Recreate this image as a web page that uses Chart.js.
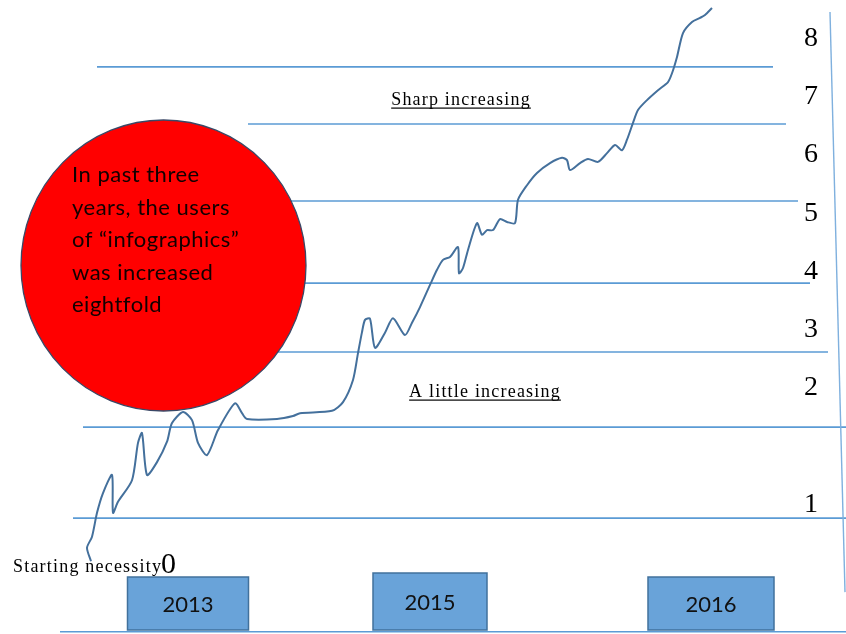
<!DOCTYPE html>
<html>
<head>
<meta charset="utf-8">
<script src="https://cdn.jsdelivr.net/npm/chart.js@4/dist/chart.umd.min.js"></script>
<style>
  body { margin: 0; background: #fff; }
  canvas { display: block; }
</style>
</head>
<body>
<canvas id="chart" width="846" height="634"></canvas>
<script>
// curve: weeks since start (x) and users index (y)
const weeks = [0.75, -0.25, 1, 2.25, 3.75, 6, 6.25, 7.5, 11, 12.5, 13.5, 14.75, 17.25, 19.75, 21, 23.75,
  26, 27.5, 29.75, 32.5, 36.75, 38.5, 39.75, 47.25, 51.25, 53, 61, 63.75, 66.25, 67.5, 68.5, 69.25,
  70.5, 71.75, 74.25, 76.25, 79.25, 81, 83, 85.5, 87.25, 88.75, 90.5, 92.5, 92.75, 93.75, 95, 97.25,
  98.5, 99.75, 101.25, 103, 104.75, 106.75, 107.5, 109.75, 112.25, 115.5, 118.5, 119.75, 120.5, 123,
  125, 127.5, 129.75, 131.75, 133.5, 134.75, 136.25, 137.5, 139.75, 142.5, 145, 146, 147.25, 148.75,
  151, 153, 154.25, 156]
const users = [0.03, 0.26, 0.45, 0.86, 1.20, 1.51, 0.86, 1.05, 1.42, 2.06, 2.23, 1.51, 1.73, 2.08, 2.40, 2.59,
  2.45, 2.06, 1.85, 2.28, 2.74, 2.57, 2.47, 2.47, 2.52, 2.57, 2.61, 2.76, 3.14, 3.60, 3.96, 4.17,
  4.19, 3.69, 3.95, 4.20, 3.91, 4.12, 4.39, 4.77, 5.03, 5.20, 5.25, 5.42, 4.97, 5.06, 5.37, 5.83,
  5.63, 5.71, 5.71, 5.90, 5.85, 5.83, 6.23, 6.48, 6.69, 6.86, 6.95, 6.91, 6.74, 6.86,
  6.93, 6.88, 7.03, 7.17, 7.08, 7.26, 7.55, 7.77, 7.94, 8.11, 8.25, 8.40, 8.68, 9.09,
  9.28, 9.35, 9.40, 9.52]

// horizontal guide lines (level, first week, last week)
const guideLevels = [8.51, 7.53, 6.21, 4.80, 3.62, 2.33, 0.77, -1.18]
const guideStarts = [2.25, 40, 28, 28, 28, -1.25, -3.75, -7]
const guideEnds = [171.25, 174.5, 177.5, 180.5, 185, 189.5, 189.5, 189.5]

// right edge rule
const edgeWeeks = [185.5, 189.25]
const edgeLevels = [9.45, -0.5]

const tickLabels = ['1', '2', '3', '4', '5', '6', '7', '8']
const tickLevels = [1, 3, 4, 5, 6, 7, 8, 9]

const years = ['2013', '2015', '2016']
const yearWeeks = [25, 85.5, 155.75]

const circleText = ['In past three', 'years, the users', 'of \u201cinfographics\u201d', 'was increased', 'eightfold']

const guideSets = guideLevels.map((lv, i) => ({
  data: [{ x: guideStarts[i], y: lv }, { x: guideEnds[i], y: lv }],
  borderColor: '#5b9bd5',
  borderWidth: 1.6,
  pointRadius: 0
}))

function underlined (ctx, text, cx, baseY) {
  const w = ctx.measureText(text).width
  ctx.fillText(text, cx - w / 2, baseY)
  ctx.fillRect(cx - w / 2, baseY + 2.5, w, 1.2)
}

const decor = {
  id: 'decor',
  afterDatasetsDraw (chart) {
    const { ctx, scales: { x } } = chart
    ctx.save()

    // red bubble with the message
    ctx.beginPath()
    ctx.ellipse(163.5, 265.5, 142.5, 145.5, 0, 0, Math.PI * 2)
    ctx.fillStyle = '#ff0000'
    ctx.fill()
    ctx.lineWidth = 1.3
    ctx.strokeStyle = '#3a4866'
    ctx.stroke()
    ctx.fillStyle = '#120000'
    ctx.font = '22px Lato'
    ctx.letterSpacing = '0.5px'
    ctx.textAlign = 'left'
    ctx.textBaseline = 'middle'
    circleText.forEach((t, i) => ctx.fillText(t, 72, 175 + i * 32.5))

    // underlined notes
    ctx.fillStyle = '#000'
    ctx.textBaseline = 'alphabetic'
    ctx.font = '18px "Liberation Serif"'
    ctx.letterSpacing = '1.2px'
    underlined(ctx, 'Sharp increasing', 461, 105)
    underlined(ctx, 'A little increasing', 485, 397)
    ctx.fillText('Starting necessity', 13, 572)
    ctx.letterSpacing = '0px'
    ctx.font = '30px "Liberation Serif"'
    ctx.fillText('0', 161, 573)

    // year boxes
    const tops = [577, 573, 577]
    const widths = [121, 114, 126]
    years.forEach((yr, i) => {
      const cx = x.getPixelForValue(yearWeeks[i])
      const left = cx - widths[i] / 2
      ctx.fillStyle = '#69a3d9'
      ctx.fillRect(left, tops[i], widths[i], 630 - tops[i])
      ctx.lineWidth = 1.5
      ctx.strokeStyle = '#41719c'
      ctx.strokeRect(left, tops[i], widths[i], 630 - tops[i])
      ctx.fillStyle = '#111'
      ctx.font = '22px Lato'
      ctx.textAlign = 'center'
      ctx.textBaseline = 'middle'
      ctx.fillText(yr, cx, (tops[i] + 630) / 2 + 1)
      ctx.textAlign = 'left'
    })
    ctx.restore()
  }
}

new Chart(document.getElementById('chart'), {
  type: 'line',
  data: {
    datasets: [{
      data: weeks.map((w, i) => ({ x: w, y: users[i] })),
      borderColor: '#44709c',
      borderWidth: 2,
      pointRadius: 0,
      tension: 0.25
    }, {
      data: edgeWeeks.map((w, i) => ({ x: w, y: edgeLevels[i] })),
      borderColor: '#7fb0de',
      borderWidth: 1.4,
      pointRadius: 0
    }, ...guideSets]
  },
  options: {
    responsive: false,
    animation: false,
    layout: { padding: 0, autoPadding: false },
    plugins: { legend: { display: false }, tooltip: { enabled: false } },
    scales: {
      x: { type: 'linear', min: -22, max: 189.5, display: false },
      y: {
        type: 'linear',
        position: 'right',
        min: -1.218,
        max: 9.657,
        grid: { display: false, drawTicks: false },
        border: { display: false },
        afterBuildTicks: (axis) => { axis.ticks = tickLevels.map(v => ({ value: v })) },
        ticks: {
          mirror: true,
          padding: -28,
          color: '#000',
          font: { family: 'Liberation Serif', size: 28 },
          callback: (v, i) => tickLabels[i]
        }
      }
    }
  },
  plugins: [decor]
})
</script>
</body>
</html>
